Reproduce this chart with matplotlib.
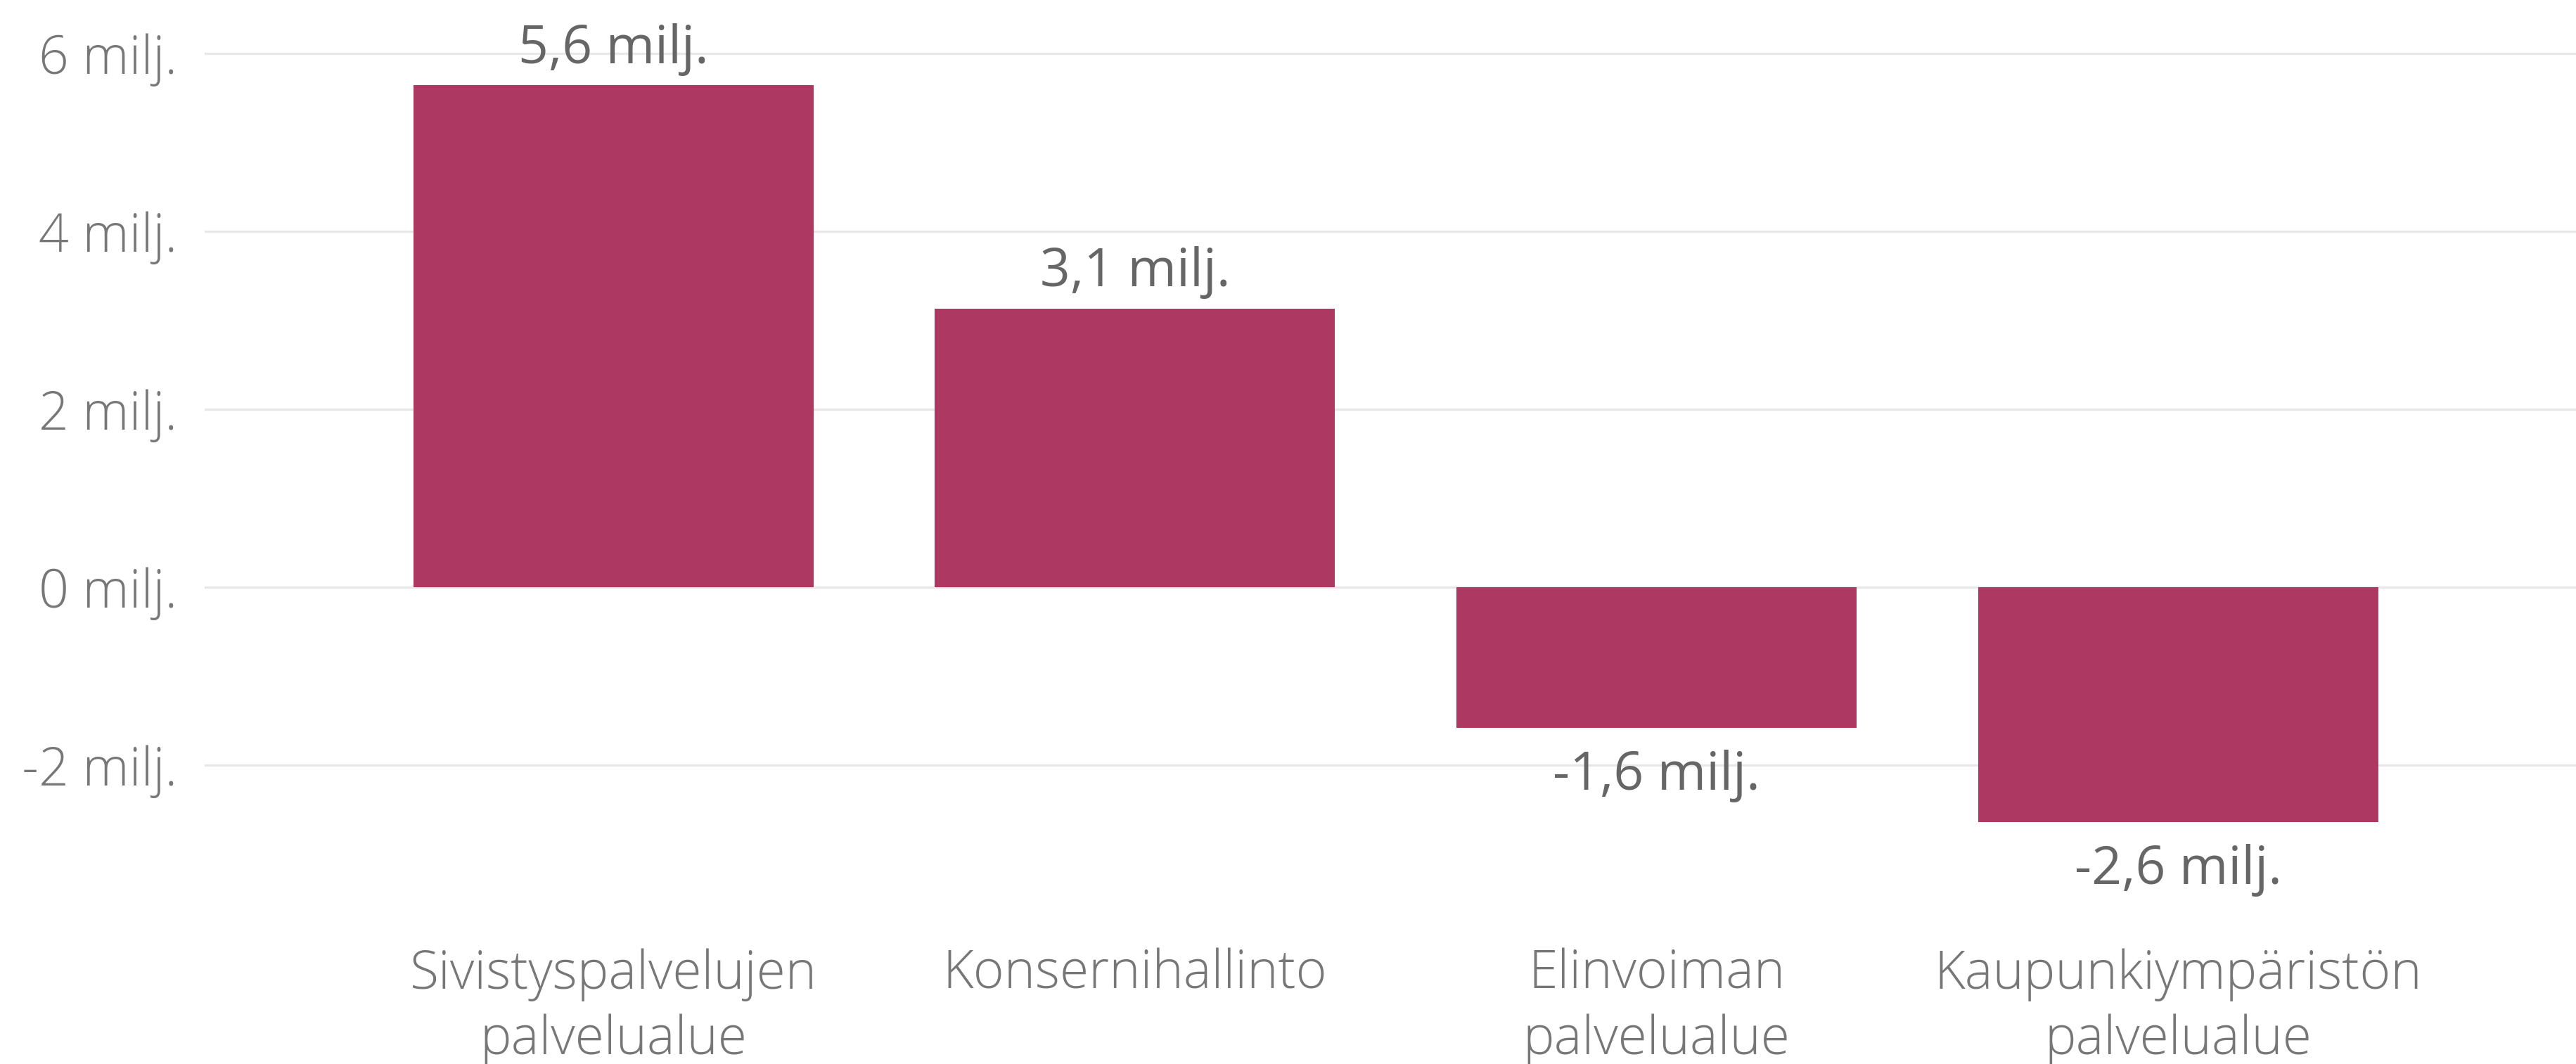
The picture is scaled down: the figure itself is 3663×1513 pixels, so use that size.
import matplotlib.pyplot as plt
from matplotlib.ticker import FuncFormatter

plt.rcParams["font.family"] = ["Open Sans", "DejaVu Sans"]
plt.rcParams["axes.unicode_minus"] = False

# data (millions of euros)
categories = [
    "Sivistyspalvelujen\npalvelualue",
    "Konsernihallinto",
    "Elinvoiman\npalvelualue",
    "Kaupunkiympäristön\npalvelualue",
]
values = [5.64, 3.13, -1.58, -2.64]
y_ticks = [-2, 0, 2, 4, 6]

BAR = "#ad3862"
GRID = "#e8e8e8"
TICK = "#777777"
LABEL = "#666666"


def milj(v, _pos=None):
    if float(v).is_integer():
        return f"{int(v)} milj."
    return f"{v:.1f}".replace(".", ",") + " milj."


fig = plt.figure(figsize=(36.63, 15.13), dpi=100)
ax = fig.add_axes([0.0794, 0.1804, 0.9206, 0.7945])

x = range(len(categories))
bars = ax.bar(x, values, width=0.767, color=BAR, zorder=2)

ax.set_xlim(-0.784, 3.763)
ax.set_ylim(-3.2, 6.3)
ax.set_yticks(y_ticks)
ax.yaxis.set_major_formatter(FuncFormatter(milj))
ax.grid(axis="y", color=GRID, linewidth=2.4, zorder=0)
ax.set_axisbelow(True)

for s in ax.spines.values():
    s.set_visible(False)

ax.set_xticks(list(x))
ax.set_xticklabels(categories, linespacing=1.3)
ax.tick_params(axis="x", length=0, pad=78, labelsize=54, labelcolor=TICK)
ax.tick_params(axis="y", length=0, pad=28, labelsize=54, labelcolor=TICK)
for lab in ax.get_xticklabels():
    lab.set_verticalalignment("top")
    lab.set_fontweight("light")
for lab in ax.get_yticklabels():
    lab.set_fontweight("light")

for b, v in zip(bars, values):
    cx = b.get_x() + b.get_width() / 2
    if v >= 0:
        ax.annotate(milj(round(v, 1)), (cx, v), xytext=(0, 10),
                    textcoords="offset points", ha="center", va="bottom",
                    fontsize=54, color=LABEL, fontweight="normal")
    else:
        ax.annotate(milj(round(v, 1)), (cx, v), xytext=(0, -22),
                    textcoords="offset points", ha="center", va="top",
                    fontsize=54, color=LABEL, fontweight="normal")

fig.savefig("out.png", dpi=100, facecolor="white")
